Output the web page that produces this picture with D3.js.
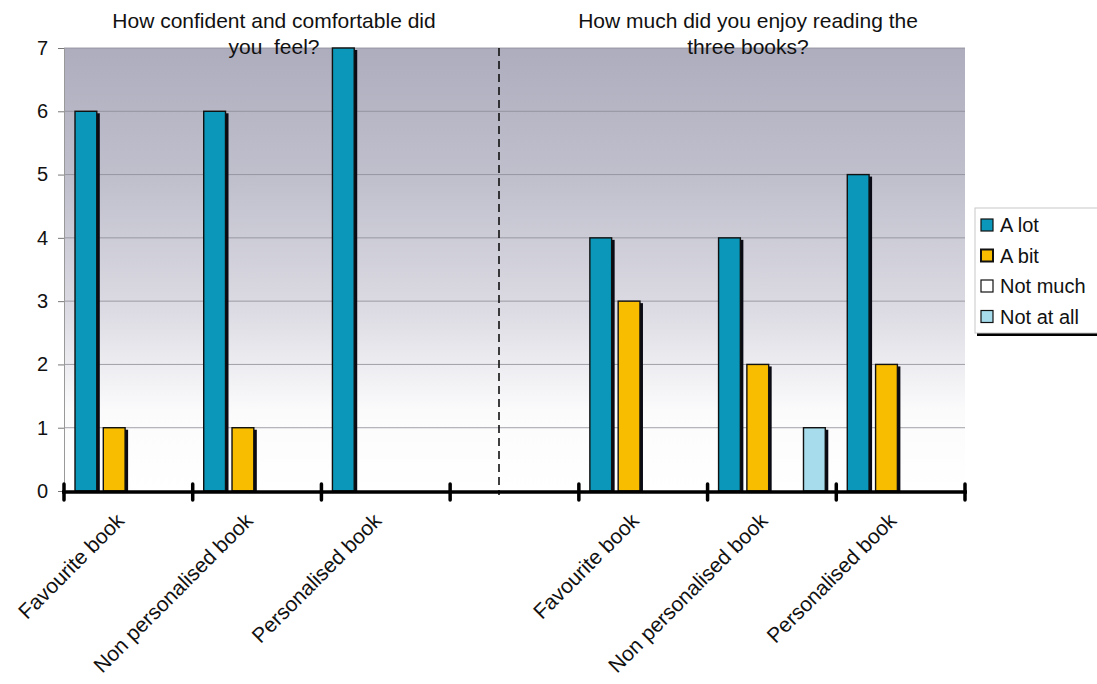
<!DOCTYPE html>
<html lang="en">
<head>
<meta charset="UTF-8">
<script src="https://d3js.org/d3.v7.min.js"></script>
<title>Book survey</title>
<style>
  body { margin: 0; background: #fff; }
  svg text { font-family: "Liberation Sans", Arial, sans-serif; fill: #111; white-space: pre; }
</style>
</head>
<body>
<svg id="svg" width="1097" height="684"></svg>
<script>
// slots along the x axis (one empty slot separates the two questions)
var slots = ["q1-fav", "q1-non", "q1-pers", "gap", "q2-fav", "q2-non", "q2-pers"];
var slotLabels = ["Favourite book", "Non personalised book", "Personalised book", "",
                  "Favourite book", "Non personalised book", "Personalised book"];
var series = ["A lot", "A bit", "Not much", "Not at all"];
var colors = ["#0a97b9", "#f9bd00", "#ffffff", "#a6dcec"];

var aLot     = [6, 6, 7, 0, 4, 4, 5];
var aBit     = [1, 1, 0, 0, 3, 2, 2];
var notMuch  = [0, 0, 0, 0, 0, 0, 0];
var notAtAll = [0, 0, 0, 0, 0, 1, 0];
var yTicks = [0, 1, 2, 3, 4, 5, 6, 7];

var titles = [
  ["How confident and comfortable did", "you  feel?"],
  ["How much did you enjoy reading the", "three books?"]
];

var values = [aLot, aBit, notMuch, notAtAll];

function drawChart() {
  var svg = d3.select("svg");
  var left = 64, right = 965, plotTop = 48, bottom = 491;

  var x = d3.scaleBand().domain(slots).range([left, right]).padding(0);
  var inner = d3.scaleBand().domain(series)
    .range([11, x.bandwidth() - 11]).paddingInner(0.23).paddingOuter(0);
  var y = d3.scaleLinear().domain([0, 7]).range([bottom, plotTop]);

  // background gradient
  var defs = svg.append("defs");
  var grad = defs.append("linearGradient").attr("id", "bg")
    .attr("x1", 0).attr("y1", 0).attr("x2", 0).attr("y2", 1);
  grad.append("stop").attr("offset", "0%").attr("stop-color", "#adadbe");
  grad.append("stop").attr("offset", "30%").attr("stop-color", "#c0c0cd");
  grad.append("stop").attr("offset", "60%").attr("stop-color", "#dddce4");
  grad.append("stop").attr("offset", "82%").attr("stop-color", "#fbfbfc");
  grad.append("stop").attr("offset", "100%").attr("stop-color", "#ffffff");

  svg.append("rect")
    .attr("x", left).attr("y", plotTop)
    .attr("width", right - left).attr("height", bottom - plotTop)
    .attr("fill", "url(#bg)");

  // gridlines
  svg.append("g").selectAll("line").data(yTicks.slice(1)).enter().append("line")
    .attr("x1", left).attr("x2", right)
    .attr("y1", d => y(d)).attr("y2", d => y(d))
    .attr("stroke", "#8c8c96").attr("stroke-width", 0.8);

  // y axis
  var yAxis = svg.append("g").attr("transform", "translate(" + left + ",0)")
    .call(d3.axisLeft(y).tickValues(yTicks).tickSize(6).tickPadding(10).tickFormat(d3.format("d")));
  yAxis.select(".domain").attr("stroke", "#999").attr("stroke-width", 1);
  yAxis.selectAll(".tick line").attr("stroke", "#777");
  yAxis.selectAll("text").style("font-size", "20px").style("font-family", "Liberation Sans, Arial, sans-serif").attr("fill", "#222");

  // dashed separator
  svg.append("line")
    .attr("x1", 499).attr("x2", 499).attr("y1", plotTop).attr("y2", bottom + 4)
    .attr("stroke", "#111").attr("stroke-width", 1.6).attr("stroke-dasharray", "8,5");

  // bars
  var barData = [];
  slots.forEach(function (s, i) {
    series.forEach(function (k, j) {
      if (values[j][i] > 0) barData.push({ slot: s, key: k, value: values[j][i], color: colors[j] });
    });
  });

  var bars = svg.append("g").selectAll("g").data(barData).enter().append("g");
  bars.append("rect")
    .attr("x", d => x(d.slot) + inner(d.key) + 3)
    .attr("y", d => y(d.value) + 2)
    .attr("width", inner.bandwidth())
    .attr("height", d => bottom - y(d.value) - 2)
    .attr("fill", "#0a0a14");
  bars.append("rect")
    .attr("x", d => x(d.slot) + inner(d.key))
    .attr("y", d => y(d.value))
    .attr("width", inner.bandwidth())
    .attr("height", d => bottom - y(d.value))
    .attr("fill", d => d.color)
    .attr("stroke", "#111").attr("stroke-width", 1.4);

  // x axis
  var xAxis = svg.append("g");
  xAxis.append("line")
    .attr("x1", left - 2).attr("x2", right + 2)
    .attr("y1", bottom + 1).attr("y2", bottom + 1)
    .attr("stroke", "#000").attr("stroke-width", 3.5);
  var tickPos = slots.map(s => x(s)).concat([x(slots[slots.length - 1]) + x.bandwidth()]);
  xAxis.selectAll(".xt").data(tickPos).enter().append("line")
    .attr("class", "xt")
    .attr("x1", d => d).attr("x2", d => d)
    .attr("y1", bottom - 7).attr("y2", bottom + 9)
    .attr("stroke", "#000").attr("stroke-width", 3.5).attr("stroke-linecap", "round");

  xAxis.selectAll(".xl").data(slots).enter().append("text")
    .attr("class", "xl")
    .attr("text-anchor", "end")
    .attr("transform", d => "translate(" + (x(d) + x.bandwidth() / 2 - 3) + "," + (bottom + 31) + ") rotate(-45)")
    .style("font-size", "21px").attr("fill", "#222")
    .text((d, i) => slotLabels[i]);

  // titles
  var titleX = [274, 748];
  titles.forEach(function (t, i) {
    svg.append("text").attr("x", titleX[i]).attr("y", 28)
      .attr("text-anchor", "middle").style("font-size", "21px").text(t[0]);
    svg.append("text").attr("x", titleX[i]).attr("y", 54)
      .attr("text-anchor", "middle").style("font-size", "21px").text(t[1]);
  });

  // legend
  var lg = svg.append("g").attr("transform", "translate(975,208)");
  lg.append("rect").attr("x", 2).attr("y", 125).attr("width", 122).attr("height", 3).attr("fill", "#000");
  lg.append("rect").attr("x", 0).attr("y", 0).attr("width", 124).attr("height", 125)
    .attr("fill", "#fff").attr("stroke", "#c8c8c8").attr("stroke-width", 1);
  var items = lg.selectAll(".li").data(series).enter().append("g")
    .attr("class", "li")
    .attr("transform", (d, i) => "translate(6," + (11 + i * 30.5) + ")");
  items.append("rect").attr("width", 12).attr("height", 12)
    .attr("fill", (d, i) => colors[i]).attr("stroke", "#111").attr("stroke-width", (d, i) => i === 1 ? 2 : 1.2);
  items.append("text").attr("x", 19).attr("y", 13)
    .style("font-size", "20px").attr("fill", "#111").text(d => d);
}

drawChart();
</script>
</body>
</html>
